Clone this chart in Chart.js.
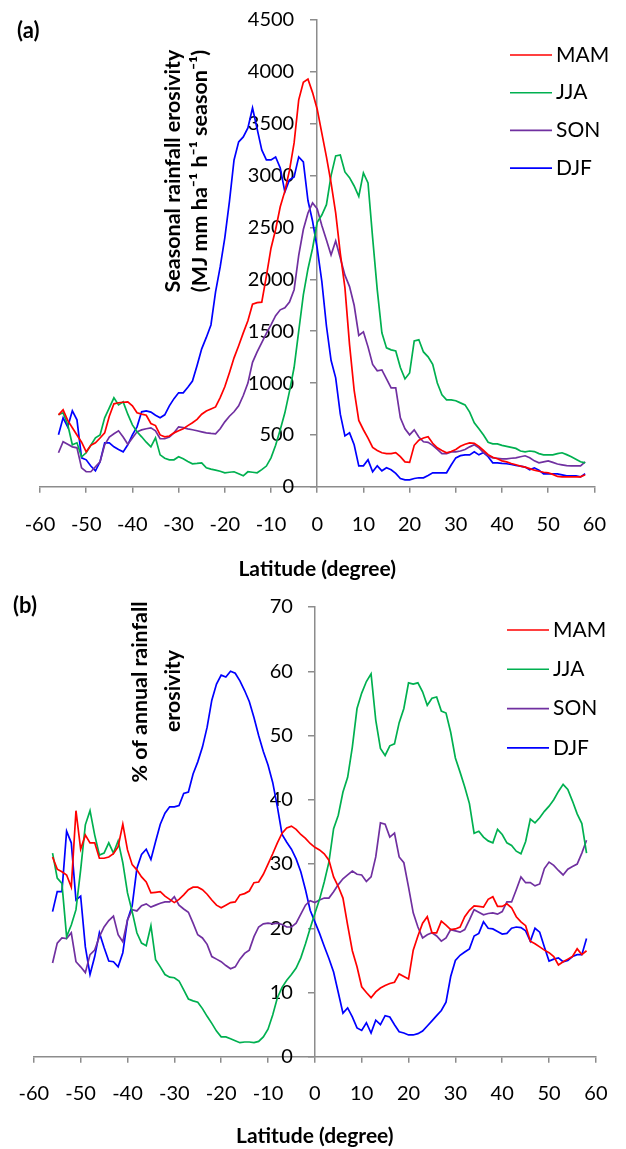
<!DOCTYPE html>
<html>
<head>
<meta charset="utf-8">
<script src="https://cdn.jsdelivr.net/npm/chart.js@4.4.1/dist/chart.umd.min.js"></script>
<style>
  body { margin: 0; background: #fff; }
  canvas { display: block; }
</style>
</head>
<body>
<canvas id="chartA" width="626" height="582"></canvas>
<canvas id="chartB" width="626" height="567"></canvas>
<script>
// latitude of every sample (degree)
const lat = [
  -56, -55, -54, -53, -52, -51, -50, -49, -48, -47,
  -46, -45, -44, -43, -42, -41, -40, -39, -38, -37,
  -36, -35, -34, -33, -32, -31, -30, -29, -28, -27,
  -26, -25, -24, -23, -22, -21, -20, -19, -18, -17,
  -16, -15, -14, -13, -12, -11, -10, -9, -8, -7,
  -6, -5, -4, -3, -2, -1, 0, 1, 2, 3,
  4, 5, 6, 7, 8, 9, 10, 11, 12, 13,
  14, 15, 16, 17, 18, 19, 20, 21, 22, 23,
  24, 25, 26, 27, 28, 29, 30, 31, 32, 33,
  34, 35, 36, 37, 38, 39, 40, 41, 42, 43,
  44, 45, 46, 47, 48, 49, 50, 51, 52, 53,
  54, 55, 56, 57, 58
];

const seasons = ['MAM', 'JJA', 'SON', 'DJF'];
const colors = ['#ff0000', '#00b050', '#7030a0', '#0000ff'];

// (a) seasonal rainfall erosivity, MJ mm ha-1 h-1 season-1
const erosMAM = [
  694, 742, 640, 570, 500, 430, 337, 400, 424, 470,
  520, 680, 800, 810, 815, 819, 780, 713, 700, 690,
  610, 590, 500, 482, 490, 520, 540, 560, 590, 617,
  650, 700, 730, 750, 770, 860, 964, 1100, 1243, 1360,
  1484, 1600, 1760, 1775, 1780, 2030, 2300, 2480, 2700, 2850,
  3050, 3315, 3730, 3900, 3930, 3800, 3640, 3410, 3180, 2930,
  2640, 2250, 1920, 1370, 930, 640, 550, 470, 380, 350,
  328, 320, 320, 330, 290, 240, 235, 400, 450, 470,
  482, 420, 376, 350, 328, 340, 360, 390, 410, 424,
  420, 390, 350, 310, 285, 270, 250, 240, 225, 212,
  200, 190, 175, 160, 150, 140, 135, 120, 100, 96,
  96, 96, 96, 96, 116
];
const erosJJA = [
  694, 713, 600, 405, 424, 289, 328, 400, 472, 500,
  665, 760, 858, 790, 819, 700, 597, 530, 482, 430,
  385, 472, 308, 275, 260, 260, 289, 270, 245, 222,
  225, 231, 183, 170, 160, 150, 135, 140, 145, 125,
  106, 145, 140, 135, 165, 200, 279, 400, 550, 713,
  920, 1150, 1500, 1850, 2100, 2300, 2550, 2620, 2720, 3000,
  3190, 3199, 3035, 2980, 2900, 2800, 3026, 2929, 2400, 1898,
  1484, 1339, 1320, 1310, 1150, 1040, 1098, 1407, 1417, 1300,
  1253, 1180, 1000, 887, 838, 838, 830, 809, 790, 720,
  617, 560, 500, 430, 414, 414, 400, 390, 380, 370,
  345, 337, 345, 340, 320, 308, 308, 308, 320, 328,
  310, 289, 265, 241, 231
];
const erosSON = [
  328, 434, 410, 385, 376, 183, 145, 145, 193, 241,
  405, 480, 511, 540, 480, 410, 470, 530, 549, 560,
  568, 540, 463, 463, 480, 520, 578, 570, 559, 550,
  540, 530, 520, 515, 511, 560, 626, 680, 723, 780,
  880, 1000, 1200, 1300, 1390, 1480, 1561, 1650, 1706, 1725,
  1780, 1900, 2230, 2480, 2640, 2737, 2680, 2520, 2380, 2235,
  2370, 2206, 2040, 1930, 1750, 1460, 1494, 1349, 1180, 1118,
  1127, 1040, 954, 954, 665, 560, 501, 549, 480, 434,
  428, 400, 360, 320, 320, 337, 337, 345, 360, 385,
  405, 376, 330, 300, 279, 275, 270, 270, 275, 279,
  290, 299, 280, 250, 231, 240, 250, 235, 220, 212,
  205, 202, 202, 202, 241
];
const erosDJF = [
  501, 665, 578, 732, 646, 279, 260, 200, 154, 241,
  424, 424, 385, 360, 337, 405, 501, 578, 723, 732,
  720, 690, 665, 694, 780, 850, 906, 906, 960, 1020,
  1170, 1330, 1440, 1560, 1880, 2120, 2400, 2750, 3151, 3325,
  3373, 3460, 3652, 3450, 3247, 3151, 3151, 3180, 3074, 2843,
  2960, 2987, 3180, 3132, 2760, 2560, 2300, 1980, 1550, 1220,
  1050, 700, 491, 520, 405, 202, 202, 260, 145, 202,
  154, 183, 164, 130, 80, 67, 67, 80, 87, 87,
  110, 135, 135, 135, 135, 210, 279, 300, 308, 308,
  337, 308, 330, 290, 231, 231, 225, 222, 215, 205,
  200, 190, 164, 183, 160, 125, 125, 125, 125, 115,
  106, 106, 106, 96, 125
];

// (b) share of annual rainfall erosivity, %
const pctMAM = [
  31.1, 29.2, 28.8, 28.3, 26.4, 38.3, 32.3, 34.5, 33.3, 33.3,
  30.9, 30.9, 31.1, 31.6, 32.7, 36.2, 32.2, 29.9, 29.1, 28.0,
  27.2, 25.5, 25.6, 25.7, 25.0, 24.5, 24.0, 24.5, 25.2, 26.0,
  26.4, 26.4, 26.0, 25.3, 24.4, 23.6, 23.2, 23.6, 24.0, 24.1,
  25.2, 25.4, 25.8, 27.1, 27.2, 28.4, 30.0, 31.6, 33.3, 34.8,
  35.6, 35.9, 35.4, 34.6, 34.0, 33.2, 32.6, 32.2, 31.6, 30.6,
  28.0, 26.5, 24.7, 20.5, 16.5, 14.0, 10.9, 10.0, 9.2, 10.1,
  10.7, 11.1, 11.4, 11.6, 12.9, 12.5, 12.1, 16.6, 18.8, 20.8,
  21.8, 19.3, 19.3, 21.1, 20.5, 19.8, 19.9, 20.2, 21.8, 22.8,
  23.5, 23.4, 23.3, 24.5, 24.9, 23.4, 23.4, 23.8, 23.2, 21.8,
  21.0, 20.4, 18.0, 17.6, 17.1, 16.6, 16.2, 15.6, 14.3, 14.8,
  15.2, 15.6, 16.8, 15.9, 16.5
];
const pctJJA = [
  31.7, 27.8, 27.0, 18.7, 20.5, 22.9, 29.1, 36.1, 38.3, 34.5,
  31.4, 31.7, 33.3, 31.7, 33.6, 30.2, 25.5, 22.6, 19.3, 17.7,
  17.3, 20.4, 15.1, 14.0, 12.8, 12.4, 12.3, 11.8, 10.4, 9.0,
  8.7, 8.5, 7.5, 6.3, 5.2, 4.0, 3.1, 3.1, 2.8, 2.5,
  2.2, 2.3, 2.3, 2.2, 2.4, 3.1, 4.3, 6.5, 9.2, 10.8,
  11.9, 12.8, 13.8, 15.4, 17.6, 20.0, 22.3, 24.5, 27.2, 30.3,
  35.5, 37.6, 41.2, 43.5, 48.2, 54.2, 56.6, 58.4, 59.6, 52.4,
  48.0, 46.9, 48.4, 48.7, 52.0, 54.2, 58.2, 58.0, 58.2, 56.8,
  54.7, 55.8, 56.0, 53.8, 53.5, 50.5, 46.5, 44.3, 42.0, 39.4,
  34.8, 35.1, 34.2, 33.6, 33.3, 35.4, 34.6, 33.3, 32.9, 32.0,
  31.6, 33.5, 37.0, 36.4, 37.2, 38.2, 39.0, 40.0, 41.3, 42.4,
  41.6, 39.8, 37.8, 36.3, 31.7
];
const pctSON = [
  14.6, 17.7, 18.5, 18.4, 19.3, 14.8, 14.0, 13.1, 15.9, 16.6,
  18.7, 20.2, 21.2, 21.9, 19.0, 17.9, 21.3, 22.9, 22.7, 23.5,
  23.8, 23.3, 23.6, 23.9, 24.1, 24.1, 24.9, 23.6, 23.0, 22.5,
  20.8, 19.0, 18.5, 17.5, 15.6, 15.2, 14.8, 14.2, 13.7, 14.0,
  15.2, 16.1, 16.6, 18.7, 20.2, 20.7, 20.8, 20.7, 20.8, 20.6,
  20.2, 20.2, 20.8, 22.2, 23.6, 24.3, 24.0, 24.4, 24.7, 24.7,
  25.7, 26.8, 27.7, 28.3, 28.9, 28.4, 28.3, 27.3, 28.0, 31.1,
  36.4, 36.2, 34.2, 34.8, 31.1, 30.2, 26.4, 22.4, 20.2, 18.5,
  19.0, 19.3, 18.8, 18.0, 18.5, 19.8, 19.6, 19.4, 19.8, 21.3,
  22.9, 22.5, 22.1, 22.3, 22.4, 22.2, 22.6, 24.1, 24.1, 26.0,
  28.0, 27.1, 27.1, 26.6, 26.9, 29.3, 30.3, 29.8, 29.0, 28.3,
  29.2, 29.6, 30.0, 31.7, 33.7
];
const pctDJF = [
  22.6, 25.7, 25.7, 35.1, 33.3, 24.4, 25.0, 17.1, 12.8, 15.6,
  19.3, 17.0, 14.9, 14.8, 14.0, 16.2, 21.3, 23.5, 29.3, 31.5,
  32.3, 30.7, 33.5, 36.2, 37.9, 38.9, 38.9, 39.1, 41.0, 41.2,
  44.0, 45.9, 48.2, 51.3, 55.5, 58.0, 59.4, 59.1, 60.0, 59.7,
  58.5, 57.0, 55.3, 52.8, 50.0, 47.5, 45.4, 42.7, 38.9, 34.6,
  33.4, 32.3, 30.8, 28.8, 26.0, 22.8, 21.0, 19.2, 17.2, 15.3,
  13.2, 10.0, 6.8, 7.6, 6.2, 4.5, 4.1, 5.3, 3.7, 5.7,
  5.0, 6.4, 6.2, 5.0, 3.9, 3.7, 3.4, 3.4, 3.6, 4.0,
  4.8, 5.6, 6.4, 7.2, 8.5, 12.5, 15.0, 15.8, 16.3, 16.8,
  18.8, 19.2, 21.0, 20.0, 19.9, 19.5, 19.1, 19.2, 20.0, 20.2,
  20.1, 19.6, 18.0, 20.0, 19.4, 17.1, 14.9, 15.2, 15.4, 14.8,
  15.0, 15.6, 15.9, 15.9, 18.4
];

const FONT = 'Lato';
const AXIS = '#8c8c8c';

// tag, rotated y title and in-plot legend, drawn by hand
const deco = {
  id: 'deco',
  beforeDraw(chart, args, opts) {
    // put y tick labels left of the axis that crosses at latitude 0
    const x0 = chart.scales.x.getPixelForValue(0);
    chart.scales.y.getLabelItems().forEach(it => {
      it.options.translation[0] = x0 - opts.tickGap;
    });
  },
  afterDraw(chart, args, opts) {
    const ctx = chart.ctx;
    ctx.save();
    ctx.fillStyle = '#000';
    ctx.textBaseline = 'middle';

    ctx.font = `bold 22px ${FONT}`;
    ctx.textAlign = 'left';
    ctx.fillText(opts.tag, opts.tagX, opts.tagY);

    // size the title so its first line is as long as in the figure
    ctx.font = `bold 20px ${FONT}`;
    const size = 20 * opts.titleLen / ctx.measureText(opts.title[0].text).width;
    ctx.font = `bold ${size.toFixed(1)}px ${FONT}`;
    ctx.textAlign = 'center';
    opts.title.forEach(t => {
      ctx.save();
      ctx.translate(t.x, t.y);
      ctx.rotate(-Math.PI / 2);
      ctx.fillText(t.text, 0, 0);
      ctx.restore();
    });

    const lg = opts.legend;
    ctx.font = `21px ${FONT}`;
    ctx.textAlign = 'left';
    chart.data.datasets.forEach((ds, i) => {
      const yy = lg.y + i * lg.gap;
      ctx.strokeStyle = ds.borderColor;
      ctx.lineWidth = 1.6;
      ctx.beginPath();
      ctx.moveTo(lg.x, yy);
      ctx.lineTo(lg.x + 42, yy);
      ctx.stroke();
      ctx.fillText(ds.label, lg.x + 46, yy);
    });
    ctx.restore();
  }
};

function makeChart(id, series, yMax, yStep, pad, tickPad, decoOpts) {
  const datasets = series.map((vals, i) => ({
    label: seasons[i],
    data: lat.map((x, j) => ({ x: x, y: vals[j] })),
    borderColor: colors[i],
    borderWidth: 1.7,
    pointRadius: 0,
    fill: false,
    tension: 0
  }));
  return new Chart(document.getElementById(id), {
    type: 'line',
    data: { datasets },
    plugins: [deco],
    options: {
      responsive: false,
      animation: false,
      layout: { padding: pad },
      plugins: {
        legend: { display: false },
        tooltip: { enabled: false },
        deco: decoOpts
      },
      scales: {
        x: {
          type: 'linear',
          min: -60,
          max: 60,
          ticks: { stepSize: 10, color: '#000', padding: tickPad, font: { family: FONT, size: 20 } },
          grid: { drawOnChartArea: false, color: AXIS, lineWidth: 1.5, tickLength: 6 },
          border: { color: AXIS, width: 1.5 },
          title: {
            display: true,
            text: 'Latitude (degree)',
            color: '#000',
            padding: { top: 0, bottom: 0 },
            font: { family: FONT, size: 21, weight: 'bold' }
          }
        },
        y: {
          position: { x: 0 },
          min: 0,
          max: yMax,
          ticks: {
            stepSize: yStep,
            color: '#000',
            format: { useGrouping: false },
            font: { family: FONT, size: 20 }
          },
          grid: { drawOnChartArea: false, color: AXIS, lineWidth: 1.5, tickLength: 6 },
          border: { color: AXIS, width: 1.5 }
        }
      }
    }
  });
}

makeChart('chartA', [erosMAM, erosJJA, erosSON, erosDJF], 4500, 500,
  { left: 40, right: 14, top: 20, bottom: 0 }, 20, {
    tag: '(a)', tagX: 17, tagY: 31,
    tickGap: 23,
    titleLen: 243,
    title: [
      { text: 'Seasonal rainfall erosivity', x: 173, y: 171 },
      { text: '(MJ mm ha\u207B\u00B9 h\u207B\u00B9 season\u207B\u00B9)', x: 200, y: 171 }
    ],
    legend: { x: 510, y: 55, gap: 37.7 }
  });

makeChart('chartB', [pctMAM, pctJJA, pctSON, pctDJF], 70, 10,
  { left: 25, right: 13, top: 25, bottom: 0 }, 18.5, {
    tag: '(b)', tagX: 13, tagY: 24,
    tickGap: 22,
    titleLen: 181,
    title: [
      { text: '% of annual rainfall', x: 140, y: 110 },
      { text: 'erosivity', x: 173, y: 109 }
    ],
    legend: { x: 507, y: 48, gap: 39.3 }
  });
</script>
</body>
</html>
